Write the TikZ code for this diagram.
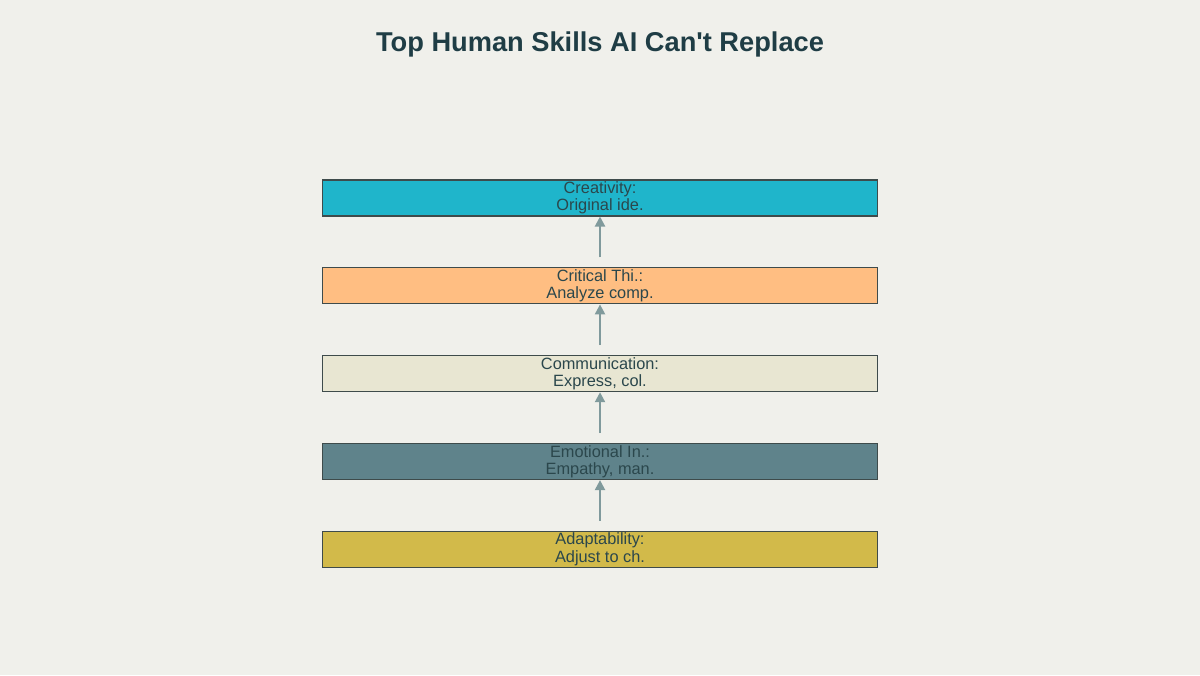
\documentclass[tikz,border=0pt]{standalone}
\usepackage{fontspec}
\setmainfont{Liberation Sans}
\usetikzlibrary{positioning,arrows.meta}

\definecolor{bgcol}{HTML}{F0F0EB}
\definecolor{titlecol}{HTML}{1F3D45}
\definecolor{txtcol}{HTML}{2B474C}
\definecolor{edgecol}{HTML}{3E4B4B}
\definecolor{arrcol}{HTML}{809A9C}
\definecolor{creacol}{HTML}{1FB5CB}
\definecolor{critcol}{HTML}{FFBE82}
\definecolor{commcol}{HTML}{E8E6D2}
\definecolor{emotcol}{HTML}{5F838B}
\definecolor{adapcol}{HTML}{D2BA4A}

\tikzset{
  skillbox/.style={draw=edgecol, line width=0.6pt, minimum width=11.1cm, minimum height=0.72cm,
                   inner sep=0pt, align=center, text=txtcol, font=\fontsize{9.3}{9.9}\selectfont},
  uparrow/.style={draw=arrcol, line width=1.2pt, -{Triangle[length=2mm,width=2mm]}}
}

\begin{document}
\begin{tikzpicture}
      \fill [bgcol] (0,0) rectangle (24,13.5);
      \useasboundingbox (0,0) rectangle (24,13.5);

      \node (title) at (12,12.62) [text=titlecol, font=\fontsize{15.5}{18}\selectfont\bfseries]
            {Top Human Skills AI Can\textquotesingle t Replace};

      \node (crea) at (12,9.54) [skillbox, fill=creacol] {Creativity:\\Original ide.};
      \node (crit) [skillbox, fill=critcol, below=1.016cm of crea] {Critical Thi.:\\Analyze comp.};
      \node (comm) [skillbox, fill=commcol, below=1.016cm of crit] {Communication:\\Express, col.};
      \node (emot) [skillbox, fill=emotcol, below=1.016cm of comm] {Emotional In.:\\Empathy, man.};
      \node (adap) [skillbox, fill=adapcol, below=1.016cm of emot] {Adaptability:\\Adjust to ch.};

      \draw [uparrow] ([yshift=0.2cm]crit.north) -- (crea.south);
      \draw [uparrow] ([yshift=0.2cm]comm.north) -- (crit.south);
      \draw [uparrow] ([yshift=0.2cm]emot.north) -- (comm.south);
      \draw [uparrow] ([yshift=0.2cm]adap.north) -- (emot.south);
\end{tikzpicture}
\end{document}
